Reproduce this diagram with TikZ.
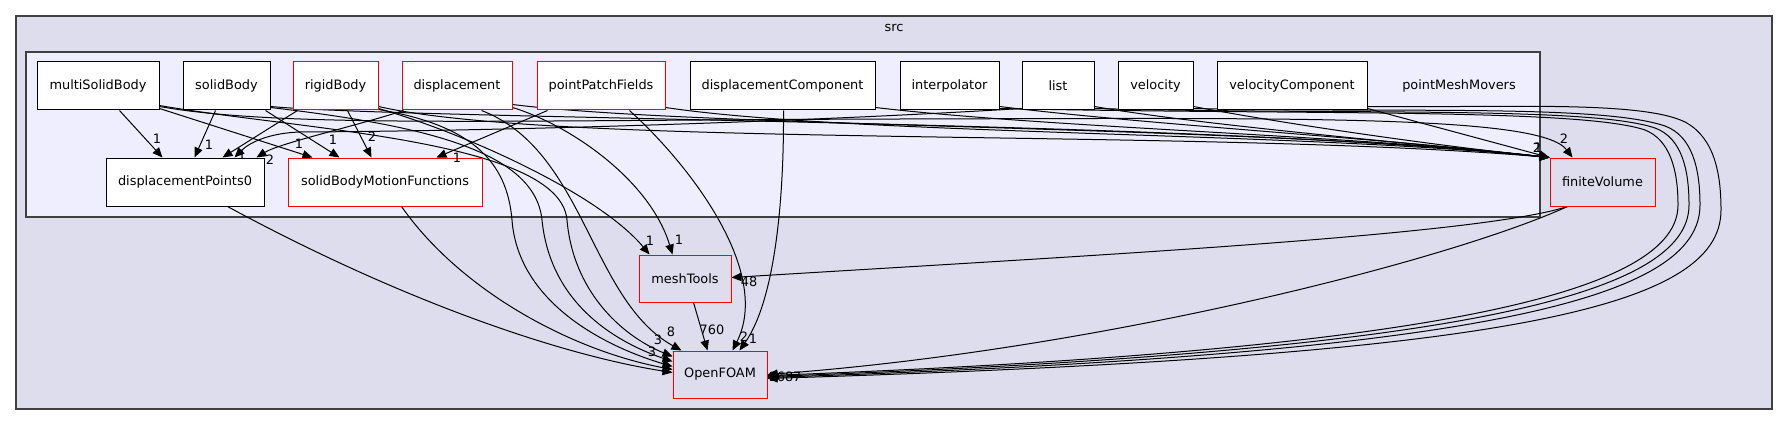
\documentclass[tikz,border=0pt]{standalone}
\usepackage{fontspec}
\setmainfont{DejaVu Sans}
\usetikzlibrary{arrows.meta,calc}
\definecolor{bgouter}{HTML}{DDDDEE}
\definecolor{bginner}{HTML}{EEEEFF}
\definecolor{frame}{HTML}{404040}
\pgfdeclarelayer{bg}
\pgfdeclarelayer{edges}
\pgfsetlayers{bg,edges,main}
\begin{document}
\begin{tikzpicture}[x=1pt,y=-1pt,
  box/.style={draw=black,fill=white,line width=1pt,minimum height=48pt,inner sep=0pt,font=\fontsize{12.9}{15}\selectfont},
  redbox/.style={box,draw=red},
  ext/.style={redbox,fill=bgouter},
  dep/.style={line width=1pt,-{Triangle[length=10pt,width=8.5pt]}},
  lbl/.style={font=\fontsize{12.9}{15}\selectfont,inner sep=0pt},
  frm/.style={draw=frame,line width=1.3pt}]
\useasboundingbox (0,0) rectangle (1788,425);
\begin{pgfonlayer}{bg}
\draw[frm,fill=bgouter] (16,16) rectangle (1772,409);
\draw[frm,fill=bginner] (26,52) rectangle (1540,217);
\end{pgfonlayer}
\node[lbl] (src) at (894,28) {src};
\node[lbl] (pmm) at (1459,86) {pointMeshMovers};
% top row
\node[box,minimum width=122pt] (msb) at (98,86) {multiSolidBody};
\node[box,minimum width=87pt] (sb) at (226.5,86) {solidBody};
\node[redbox,minimum width=85pt] (rb) at (335.5,86) {rigidBody};
\node[redbox,minimum width=110pt] (disp) at (457,86) {displacement};
\node[redbox,minimum width=128pt] (ppf) at (601,86) {pointPatchFields};
\node[box,minimum width=185pt] (dc) at (782.5,86) {displacementComponent};
\node[box,minimum width=99pt] (interp) at (949.5,86) {interpolator};
\node[box,minimum width=72pt] (list) at (1058,86) {list};
\node[box,minimum width=75pt] (vel) at (1155.5,86) {velocity};
\node[box,minimum width=150pt] (vc) at (1292,86) {velocityComponent};
% second row
\node[box,minimum width=158pt] (dp0) at (185,182) {displacementPoints0};
\node[redbox,minimum width=194pt] (sbmf) at (385,182) {solidBodyMotionFunctions};
\node[ext,minimum width=105pt] (fv) at (1602.5,182) {finiteVolume};
\node[ext,minimum width=92pt,minimum height=47pt] (mt) at (685,278.5) {meshTools};
\node[ext,minimum width=94pt,minimum height=47pt] (of) at (720,374.5) {OpenFOAM};
\begin{pgfonlayer}{edges}
% into displacementPoints0 and solidBodyMotionFunctions
\draw[dep] ($(msb.south west)+(83,0)$) -- ($(dp0.north west)+(57,0)$);
\draw[dep] ($(msb.south east)+(0,-2)$) -- ($(sbmf.north west)+(25,0)$);
\draw[dep] ($(sb.south west)+(33,0)$) -- ($(dp0.north west)+(89,0)$);
\draw[dep] ($(sb.south east)+(-5,0)$) -- ($(sbmf.north west)+(52,0)$);
\draw[dep] ($(rb.south west)+(5,0)$) -- ($(dp0.north west)+(117,0)$);
\draw[dep] ($(rb.south west)+(55,0)$) -- ($(sbmf.north west)+(84,0)$);
\draw[dep] ($(disp.south west)+(2,0)$) .. controls (360,125) and (280,143) .. ($(dp0.north west)+(151,0)$);
\draw[dep] ($(ppf.south west)+(11,0)$) -- ($(sbmf.north west)+(149,0)$);
\draw[dep] ($(list.south west)+(0,-2)$) .. controls (800,122) and (500,131) .. (300,132) .. controls (270,133) and (250,142) .. ($(dp0.north west)+(129,0)$);
% into meshTools
\draw[dep] ($(rb.south east)+(0,-2)$) .. controls (470,135) and (600,195) .. ($(mt.north west)+(11,0)$);
\draw[dep] ($(disp.south east)+(0,-3)$) .. controls (570,125) and (650,180) .. ($(mt.north west)+(34,0)$);
\draw[dep] ($(fv.south west)+(18,0)$) .. controls (1480,235) and (1100,255) .. ($(mt.east)+(0,-1)$);
% into OpenFOAM from the left
\draw[dep] ($(disp.south west)+(80,0)$) .. controls (585,150) and (590,300) .. ($(of.north west)+(9,0)$);
\draw[dep] ($(rb.south east)+(0,-1)$) .. controls (470,125) and (507,160) .. (512,220) .. controls (518,300) and (600,345) .. ($(of.west)+(0,-8)$);
\draw[dep] ($(sb.south east)+(0,-3)$) .. controls (420,125) and (535,150) .. (542,220) .. controls (550,300) and (610,340) .. ($(of.west)+(0,-13)$);
\draw[dep] ($(msb.south east)+(0,-5)$) .. controls (300,130) and (560,140) .. (567,220) .. controls (573,290) and (620,335) .. ($(of.west)+(0,-18)$);
\draw[dep] ($(dp0.south west)+(122,0)$) .. controls (400,300) and (560,355) .. ($(of.west)+(0,-2)$);
\draw[dep] ($(sbmf.south west)+(114,0)$) .. controls (460,290) and (570,350) .. ($(of.west)+(0,-5)$);
\draw[dep] ($(ppf.south west)+(93,0)$) .. controls (690,165) and (772,272) .. ($(of.north west)+(60,0)$);
\draw[dep] ($(dc.south west)+(94,0)$) .. controls (784,200) and (775,300) .. ($(of.north west)+(67,0)$);
\draw[dep] ($(mt.south west)+(55,0)$) -- ($(of.north west)+(35,0)$);
% into OpenFOAM from the right
\draw[dep] ($(fv.south west)+(18,0)$) .. controls (1450,260) and (1100,350) .. (of.east);
\draw[dep] ($(interp.south east)+(0,-2)$) .. controls (1300,115) and (1580,108) .. (1645,130) .. controls (1670,140) and (1678,170) .. (1678,205) .. controls (1678,290) and (1450,350) .. ($(of.east)+(0,1)$);
\draw[dep] ($(list.south east)+(0,-2)$) .. controls (1350,115) and (1590,106) .. (1655,128) .. controls (1682,138) and (1689,170) .. (1689,205) .. controls (1689,295) and (1460,352) .. ($(of.east)+(0,2)$);
\draw[dep] ($(vel.south east)+(0,-2)$) .. controls (1400,113) and (1600,104) .. (1665,126) .. controls (1692,136) and (1700,168) .. (1700,205) .. controls (1700,300) and (1480,354) .. ($(of.east)+(0,3)$);
\draw[dep] ($(vc.south east)+(0,-4)$) .. controls (1500,108) and (1640,100) .. (1685,122) .. controls (1715,138) and (1721,175) .. (1721,210) .. controls (1721,310) and (1500,356) .. ($(of.east)+(0,4)$);
% into finiteVolume
\draw[dep] ($(msb.south east)+(0,-4)$) .. controls (280,128) and (500,120) .. (900,119) .. controls (1300,118) and (1540,115) .. ($(fv.north west)+(23,0)$);
\draw[dep] ($(sb.south east)+(0,-4)$) .. controls (420,120) and (1200,120) .. (fv.north west);
\draw[dep] ($(rb.south east)+(0,-4)$) .. controls (560,148) and (1200,128) .. (fv.north west);
\draw[dep] ($(disp.south east)+(0,-6)$) .. controls (700,128) and (1250,125) .. (fv.north west);
\draw[dep] ($(ppf.south east)+(0,-3)$) .. controls (850,135) and (1300,132) .. (fv.north west);
\draw[dep] ($(dc.south east)+(0,-3)$) .. controls (1050,128) and (1350,135) .. (fv.north west);
\draw[dep] ($(interp.south east)+(0,-4)$) .. controls (1150,125) and (1380,138) .. (fv.north west);
\draw[dep] ($(list.south east)+(0,-4)$) .. controls (1200,125) and (1400,142) .. (fv.north west);
\draw[dep] ($(vel.south east)+(0,-4)$) .. controls (1280,123) and (1430,145) .. (fv.north west);
\draw[dep] ($(vc.south east)+(0,-2)$) -- (fv.north west);
\end{pgfonlayer}
% edge labels
\node[lbl] (l1) at (157,139) {1};
\node[lbl] (l2) at (299,144) {1};
\node[lbl] (l3) at (209,145) {1};
\node[lbl] (l4) at (333,140) {1};
\node[lbl] (l5) at (242,155) {1};
\node[lbl] (l6) at (372,137) {2};
\node[lbl] (l7) at (270,160) {2};
\node[lbl] (l8) at (457,158) {1};
\node[lbl] (l9) at (650,241) {1};
\node[lbl] (l10) at (679,240) {1};
\node[lbl] (l11) at (658,340) {3};
\node[lbl] (l12) at (652,352) {3};
\node[lbl] (l13) at (671,332) {8};
\node[lbl] (l14) at (712,330) {760};
\node[lbl] (l15) at (744,337) {2};
\node[lbl] (l16) at (753,339) {1};
\node[lbl] (l17) at (785,377) {1687};
\node[lbl] (l18) at (749,282) {48};
\node[lbl] (l19) at (1537,148) {2};
\node[lbl] (l20) at (1538,148) {1};
\node[lbl] (l21) at (1564,139) {2};
\end{tikzpicture}
\end{document}
